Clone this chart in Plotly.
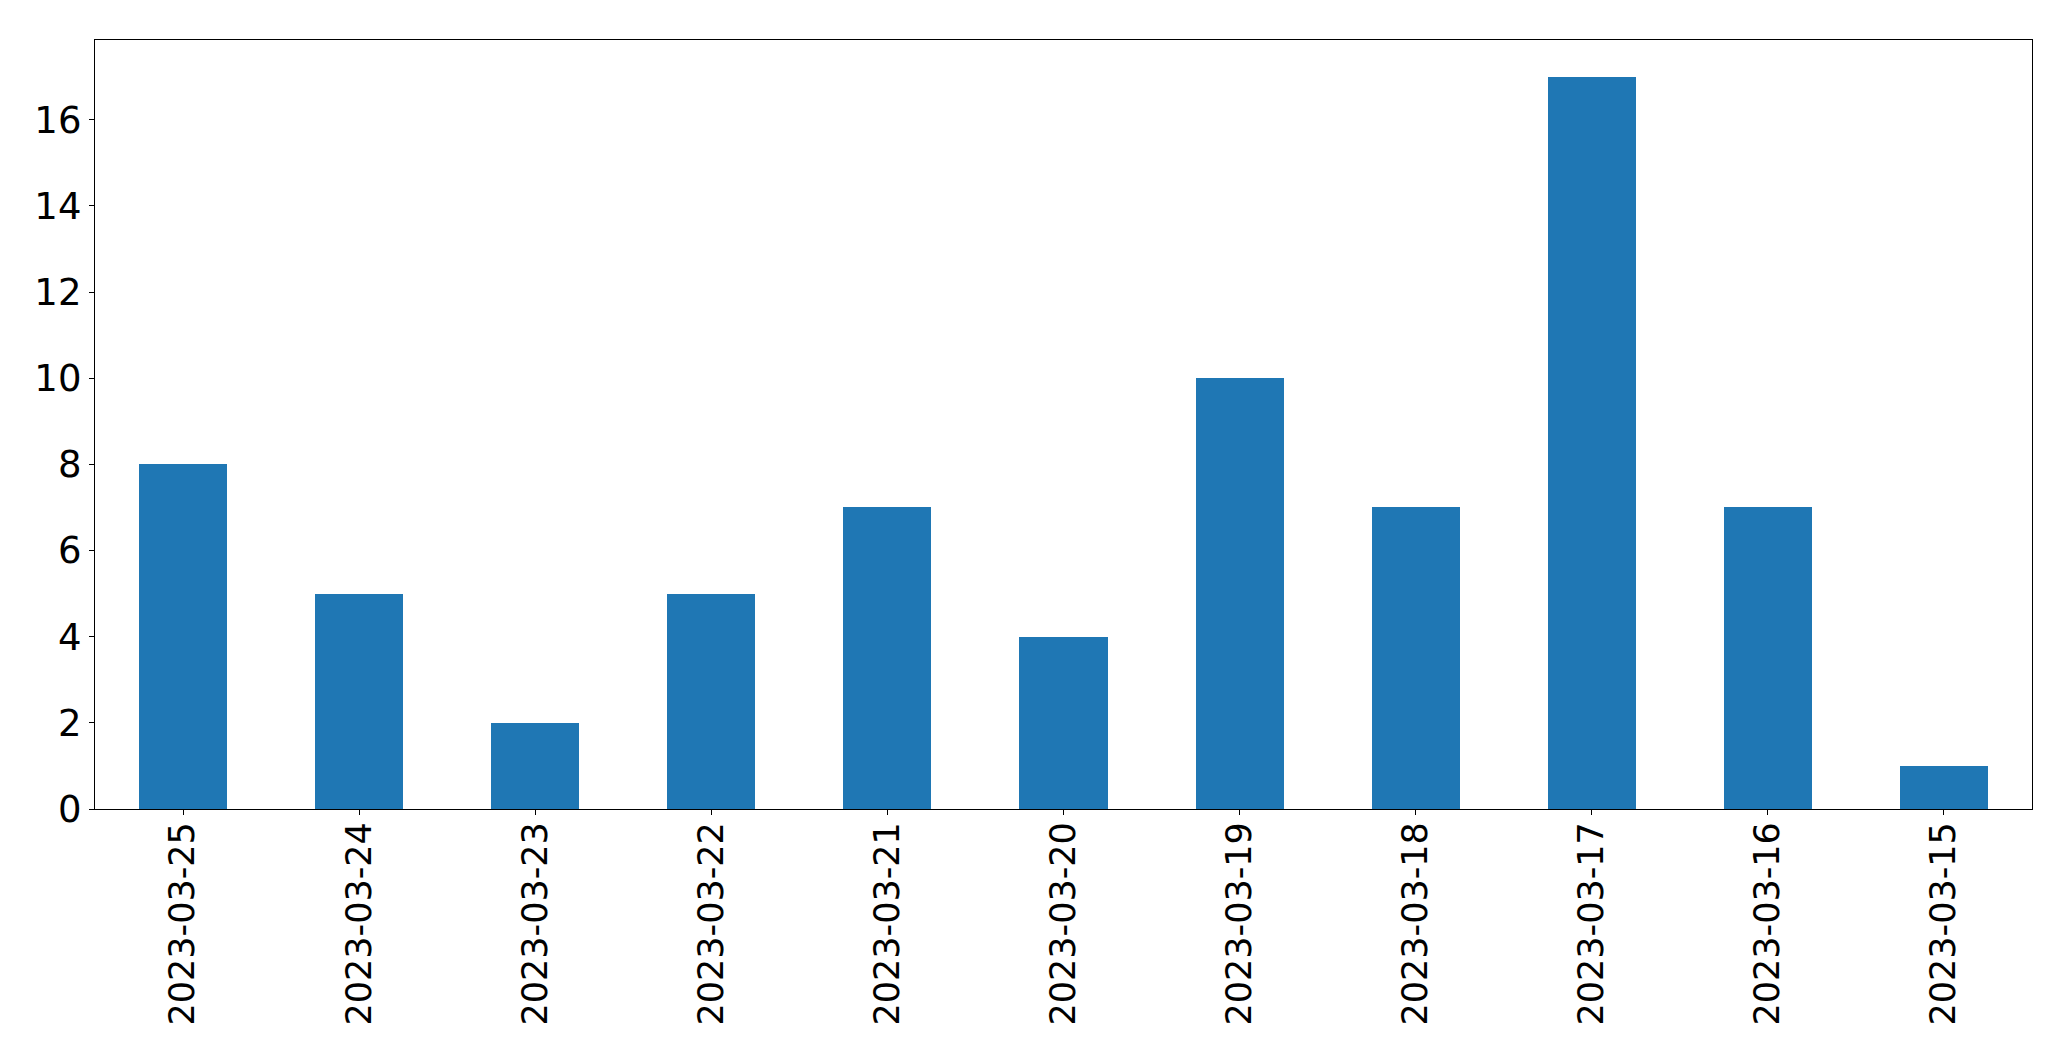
import plotly.graph_objects as go

dates = ["2023-03-25", "2023-03-24", "2023-03-23", "2023-03-22", "2023-03-21",
         "2023-03-20", "2023-03-19", "2023-03-18", "2023-03-17", "2023-03-16", "2023-03-15"]
counts = [8, 5, 2, 5, 7, 4, 10, 7, 17, 7, 1]
y_ticks = [0, 2, 4, 6, 8, 10, 12, 14, 16]

fig = go.Figure(go.Bar(x=dates, y=counts, width=0.5, marker=dict(color="#1f77b4", line=dict(width=0))))

fig.update_layout(
    width=2071, height=1061,
    margin=dict(l=87, r=47, t=32, b=260, pad=0),
    paper_bgcolor="white", plot_bgcolor="white",
    font=dict(family="DejaVu Sans", size=36, color="black"),
    showlegend=False,
    bargap=0,
)
fig.update_xaxes(type="category", range=[-0.5, 10.5], tickangle=-90,
                 ticks="outside", ticklen=5, tickwidth=1.3, tickcolor="black",
                 showline=True, linecolor="black", linewidth=1.3, mirror=True,
                 showgrid=False, zeroline=False, tickfont=dict(size=35),
                 ticklabelstandoff=-7)
fig.update_yaxes(range=[0, 17.85], tickvals=y_ticks,
                 ticks="outside", ticklen=5, tickwidth=1.3, tickcolor="black",
                 showline=True, linecolor="black", linewidth=1.3, mirror=True,
                 showgrid=False, zeroline=False, tickfont=dict(size=37))

fig.write_html("out.html")
